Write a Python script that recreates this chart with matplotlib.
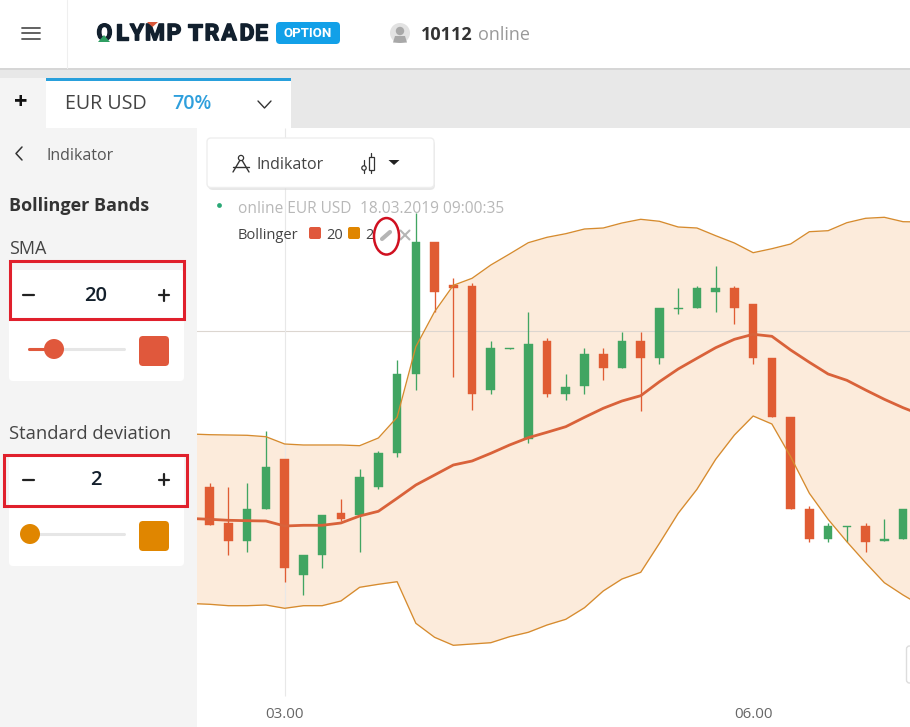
import numpy as np
import matplotlib
matplotlib.use('Agg')
import matplotlib.pyplot as plt
import matplotlib.patheffects as pe
from matplotlib.patches import FancyBboxPatch, Rectangle, Circle, Ellipse, Polygon

plt.rcParams['font.family'] = ['Open Sans', 'DejaVu Sans']

# candles (levels, no price scale on the screenshot)
opens = [240.3, 204, 185.7, 218.3, 267.7, 152, 172, 214, 212, 240.3, 274.3, 353, 485, 441.7, 441.3, 337, 378, 287.7, 386.3,
         333, 340.7, 372.7, 359.3, 386.3, 369.3, 417.7, 419.3, 435.3, 438.7, 422.7, 369, 310.3, 217.7, 188, 200.3, 201.3, 185.7, 188]
closes = [202, 185.7, 217.7, 260.3, 159.3, 171.7, 211.7, 208.3, 250, 274, 352.7, 485, 435.3, 439.3, 333, 379, 379, 382.7, 333,
          340.3, 372.7, 359.3, 386.3, 369.3, 419, 419, 438.7, 438.7, 419.3, 369.3, 310.3, 218, 188, 201.3, 201.3, 185.3, 187.7, 217.7]
highs = [243.7, 240.3, 243.7, 296.3, 267.7, 171.7, 211.7, 228, 257.7, 276.3, 367, 513.7, 485, 448.7, 444.3, 386.3, 379, 415.3, 388.7,
         352.7, 378.7, 378.7, 395, 395, 419, 438.7, 441.3, 461.3, 441.3, 422.7, 369, 310.3, 221.3, 203.7, 201.3, 203.7, 208, 217.7]
lows = [202, 171.7, 175.3, 218.3, 145.3, 132, 159.3, 206.3, 175.3, 238, 270.3, 337, 415.3, 350.3, 317, 333, 378, 284.3, 330.3,
        327, 333, 346.7, 359.3, 316.3, 363.3, 413.3, 419.3, 415.3, 403.3, 363.3, 310.3, 218, 185.3, 185.3, 185.3, 175.3, 185.7, 188]

# bollinger, starts one candle before the first one and ends one after the last
upper = [293, 292.3, 292, 291.7, 290.3, 283, 282, 282, 282, 281.3, 289, 309.7, 380.3, 415.3, 441.7, 448.7, 462, 473, 484.3, 489.7,
         493.3, 498, 499, 504, 507.7, 505.7, 500, 499, 491.3, 484, 474.3, 478.3, 483, 495.3, 496.3, 504.3, 508.7, 509.7, 505.3, 505]
lower = [123.5, 122.7, 121.3, 121.3, 122, 118.7, 121.3, 121.3, 126, 139.7, 142.7, 145.3, 103.7, 89.7, 81.7, 83, 84.3, 90.3, 94.7, 102,
         107.7, 119.3, 136, 148, 154.7, 183.7, 213.7, 237.7, 267.7, 292, 311, 303, 270.3, 233.7, 207.7, 185.3, 164.3, 144.3, 132, 121]
sma = [208.5, 207.7, 206.7, 206.3, 206, 201, 201.7, 201.7, 204, 211, 215.7, 228.7, 242, 252, 262, 266, 273.7, 282, 289.3, 294.7,
       300.3, 309.7, 318.7, 326, 331.3, 345.3, 358, 368.7, 379.3, 387.7, 392.7, 390.7, 377, 364.7, 353, 346.7, 337, 327.7, 319.3, 312]

tick_idx = [4, 29]
tick_labels = ['03.00', '06.00']
cross_level = 396

GREEN = '#41a562'
RED = '#e05c33'
BAND = '#d68b2e'
FILL = '#fcebdb'
ORANGE = '#e08600'
SMA_COL = '#e0583c'
FRAME = '#e0202c'

W, H = 910, 727
fig = plt.figure(figsize=(W / 100, H / 100), dpi=100, facecolor='white')

# chart
ax = fig.add_axes([197 / W, 0, (W - 197) / W, 599 / H])
ax.set_xlim(-0.678, 37.37)
ax.set_ylim(0, 599)
ax.axis('off')
idx = np.arange(len(opens))
band_idx = np.arange(-1, len(opens) + 1)

ax.fill_between(band_idx, lower, upper, color=FILL, lw=0, zorder=1)
ax.axhline(cross_level, color='#dcd6d0', lw=0.8, zorder=2)
ax.vlines(tick_idx[0], 31, 599, color='#e8e8e8', lw=0.8, zorder=2)

opens_a, closes_a = np.array(opens), np.array(closes)
cols = [GREEN if c >= o else RED for o, c in zip(opens_a, closes_a)]
ax.vlines(idx, lows, highs, colors=cols, lw=0.95, zorder=3)
ax.bar(idx, np.abs(closes_a - opens_a), bottom=np.minimum(opens_a, closes_a), width=0.46, color=cols,
       edgecolor=cols, lw=0.3, zorder=4)

ax.plot(band_idx, upper, color=BAND, lw=0.95, zorder=5)
ax.plot(band_idx, lower, color=BAND, lw=0.95, zorder=5)
ax.plot(band_idx, sma, color='#d9623a', lw=2.0, zorder=5, solid_joinstyle='round')

for i, lab in zip(tick_idx, tick_labels):
    ax.text(i, 13, lab, ha='center', va='center', fontsize=10.8, color='#666666')

# screen furniture in pixel coords
ui = fig.add_axes([0, 0, 1, 1], zorder=5)
ui.set_xlim(0, W)
ui.set_ylim(H, 0)
ui.axis('off')
ui.patch.set_alpha(0)


def rect(x0, y0, x1, y1, col, z=1, **kw):
    ui.add_patch(Rectangle((x0, y0), x1 - x0, y1 - y0, facecolor=col, edgecolor='none', zorder=z, **kw))


def rrect(x0, y0, x1, y1, col, r=3, z=2, **kw):
    ui.add_patch(FancyBboxPatch((x0 + r, y0 + r), x1 - x0 - 2 * r, y1 - y0 - 2 * r,
                                boxstyle='round,pad=%f,rounding_size=%f' % (r, r),
                                facecolor=col, edgecolor=kw.pop('ec', 'none'), zorder=z, **kw))


def line(xs, ys, col='#333333', lw=1.0, z=4):
    ui.plot(xs, ys, color=col, lw=lw, zorder=z, solid_capstyle='round')


def label(x, y, s, size, col='#444444', ha='left', weight='normal', z=5, **kw):
    return ui.text(x, y + 2.2, s, fontsize=size, color=col, ha=ha, va='center', fontweight=weight, zorder=z, **kw)


# header
rect(0, 0, W, 68, 'white')
rect(0, 68, W, 69.5, '#d6d6d6')
line([66.5, 66.5], [0, 68], '#efefef', 0.8)
for y in [27.5, 33, 38.5]:
    line([22, 40], [y, y], '#555555', 1.3)
logo_x = [104.5, 122, 137, 155, 174, 195, 212, 229, 247, 261]
for x, ch in zip(logo_x, 'OLYMPTRADE'):
    t = label(x, 31.5, ch, 16.5, '#12202e', ha='center', weight='bold', family='Roboto')
    t.set_path_effects([pe.withStroke(linewidth=1.0, foreground='#12202e')])
ui.add_patch(Polygon([[104, 35], [98, 42], [110, 42]], facecolor='#2f9e62', zorder=6))
ui.add_patch(Polygon([[147, 22], [158, 22], [152.5, 27]], facecolor='#d9583a', zorder=6))
rrect(276, 22, 340, 44, '#12a0e8', r=4)
label(308, 31.5, 'OPTION', 9.5, 'white', ha='center', weight='bold', family='Roboto')
ui.add_patch(Circle((400, 33), 10, facecolor='#e2e2e2', zorder=3))
ui.add_patch(Circle((400, 31), 4.2, facecolor='#a8a8a8', zorder=4))
ui.add_patch(Polygon([[393, 42.5], [395, 36], [405, 36], [407, 42.5], [400, 43]], facecolor='#a8a8a8', zorder=4))
label(421, 32.5, '10112', 13, '#333333', weight='bold')
label(478, 32.5, 'online', 13, '#999999')

# tab bar
rect(0, 69.5, W, 128, '#e8e8e8')
rect(0, 78, 46, 128, '#f4f4f4')
rect(46, 78, 291, 128, 'white', z=2)
rect(46, 78, 291, 81, '#29a0dc', z=3)
label(21, 101, '+', 17, '#111111', ha='center', weight='bold')
label(65, 102, 'EUR USD', 14.1, '#444444')
label(172, 102, '70%', 14.1, '#2f9fdc', weight='semibold')
line([258, 264.5, 271], [101, 108, 101], '#333333', 1.0)

# side panel
rect(0, 128, 197, H, '#f4f4f4')
line([22, 16, 22], [147, 153.5, 160], '#333333', 1.1)
label(46, 154, 'Indikator', 11.5, '#555555')
label(9, 204, 'Bollinger Bands', 13, '#333333', weight='bold')
label(9, 247, 'SMA', 13, '#444444')
label(9, 432, 'Standard deviation', 13.2, '#444444')

rrect(9, 270, 184, 381, 'white', r=4)
rrect(9, 455, 184, 566, 'white', r=4)

for y0, y1, x0, x1, val, yc in [(261, 319, 9.5, 184, '20', 295), (455, 506, 3.5, 187, '2', 479.5)]:
    ui.add_patch(Rectangle((x0, y0), x1 - x0, y1 - y0, facecolor='none', edgecolor=FRAME, lw=2.2, zorder=6))
    line([23, 34], [yc, yc], '#222222', 1.6)
    line([159, 169], [yc, yc], '#222222', 1.6)
    line([164, 164], [yc - 5.5, yc + 5.5], '#222222', 1.6)
    label(96, yc - 1.5, val, 14.5, '#14202c', ha='center', weight='semibold')

line([29, 124], [349, 349], '#e6e6e6', 2.2, z=3)
line([29, 54], [349, 349], SMA_COL, 2.2, z=3)
ui.add_patch(Circle((54, 349), 10, facecolor=SMA_COL, zorder=4))
rrect(139, 336, 169, 366, SMA_COL, r=4)
line([30, 124], [534, 534], '#e6e6e6', 2.2, z=3)
ui.add_patch(Circle((30, 534), 10, facecolor=ORANGE, zorder=4))
rrect(139, 521, 169, 551, ORANGE, r=4)

# toolbar over the chart
rrect(208, 140, 435, 190, '#d8d8d8', r=5, z=2, alpha=0.6)
rrect(207, 138, 434, 187.5, 'white', r=4, z=3, ec='#eeeeee')
ui.add_patch(Circle((241, 158), 2.6, facecolor='white', edgecolor='#333333', lw=0.9, zorder=4))
line([239.8, 233], [160.5, 172], '#333333', 1.0)
line([242.2, 249], [160.5, 172], '#333333', 1.0)
line([233, 249], [167, 167], '#333333', 1.0)
label(257, 162.5, 'Indikator', 11.5, '#444444')
ui.add_patch(Rectangle((368.5, 157), 5, 13, facecolor='white', edgecolor='#333333', lw=0.9, zorder=4))
line([371, 371], [153, 173], '#333333', 0.9, z=3)
line([364, 364], [160, 173], '#333333', 0.9, z=3)
ui.add_patch(Circle((364, 168), 2.2, facecolor='white', edgecolor='#333333', lw=0.9, zorder=4))
ui.add_patch(Polygon([[388.5, 160], [399.5, 160], [394, 165]], facecolor='#222222', zorder=4))

# legend lines over the chart
ui.add_patch(Circle((219.5, 205.5), 2.4, facecolor='#2aa876', zorder=4))
label(238, 206.5, 'online EUR USD', 11.2, '#b8b8b8')
label(360, 206.5, '18.03.2019 09:00:35', 11.2, '#b8b8b8')
label(238, 233, 'Bollinger', 10.5, '#444444')
rrect(309, 227, 321, 239, SMA_COL, r=2, z=4)
label(326, 233, '20', 10.5, '#444444')
rrect(348, 227, 360, 239, ORANGE, r=2, z=4)
label(365, 233, '2', 10.5, '#444444')
line([382, 390], [239, 232], '#b5b5b5', 3.0)
line([400.5, 409.5], [230.5, 239.5], '#b5b5b5', 1.5)
line([400.5, 409.5], [239.5, 230.5], '#b5b5b5', 1.5)
ui.add_patch(Ellipse((386.5, 236.3), 25, 36.5, facecolor='none', edgecolor='#d01020', lw=1.8, zorder=6))

# clipped button at the right edge
rrect(906.5, 646, 920, 683, 'white', r=3, z=3, ec='#dddddd')

fig.savefig('out.png', dpi=100)
